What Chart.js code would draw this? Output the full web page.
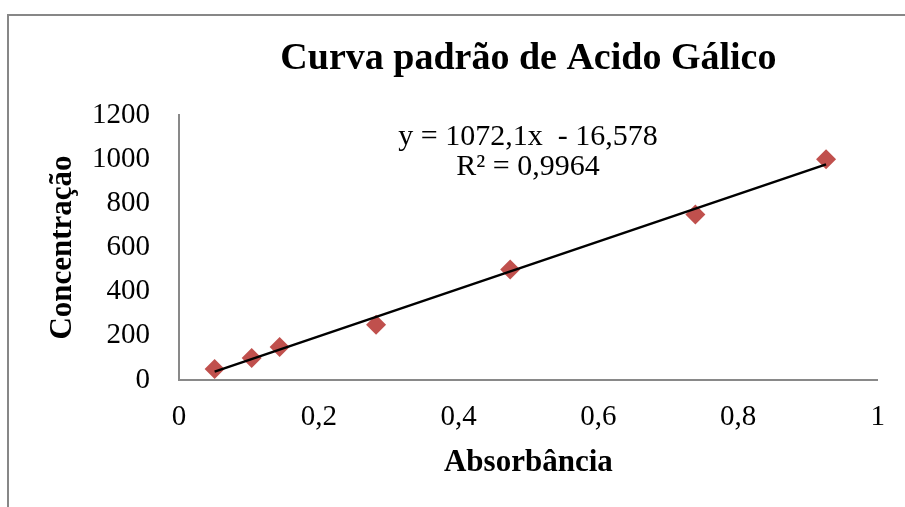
<!DOCTYPE html>
<html>
<head>
<meta charset="utf-8">
<script src="https://cdn.jsdelivr.net/npm/chart.js@4"></script>
<style>
  html, body { margin: 0; padding: 0; background: #fff; overflow: hidden; }
  #wrap { width: 905px; height: 507px; position: relative; }
</style>
</head>
<body>
<div id="wrap"><canvas id="curva"></canvas></div>
<script>
const absorbancia = [0.051, 0.104, 0.144, 0.282, 0.474, 0.739, 0.926];
const concentracao = [50, 100, 150, 250, 500, 750, 1000];
const slope = 1072.1;
const intercept = -16.578;
const rSquared = 0.9964;
const xTicks = [0, 0.2, 0.4, 0.6, 0.8, 1];
const yTicks = [0, 200, 400, 600, 800, 1000, 1200];

const serif = "'Liberation Serif', 'Times New Roman', serif";
const fmt = (v) => String(v).replace('.', ',');

// trend line spans the data range only
const xMin = Math.min(...absorbancia);
const xMax = Math.max(...absorbancia);
const trend = [xMin, xMax].map(x => ({ x: x, y: slope * x + intercept }));

// outer frame of the chart object
const frame = {
    id: 'frame',
    beforeDraw(chart) {
        const ctx = chart.ctx;
        ctx.save();
        ctx.strokeStyle = '#878787';
        ctx.lineWidth = 2;
        ctx.strokeRect(8, 15, 1000, 1000);
        ctx.restore();
    }
};

// regression equation label
const equation = {
    id: 'equation',
    afterDraw(chart) {
        const ctx = chart.ctx;
        ctx.save();
        ctx.fillStyle = '#000';
        ctx.font = '30px ' + serif;
        ctx.textAlign = 'center';
        ctx.textBaseline = 'alphabetic';
        ctx.fillText('y = ' + fmt(slope) + 'x  - ' + fmt(-intercept), 528, 145);
        ctx.fillText('R² = ' + fmt(rSquared), 528, 175);
        ctx.restore();
    }
};

const el = document.getElementById('curva');

new Chart(el, {
    type: 'scatter',
    data: {
        datasets: [{
            type: 'line',
            data: trend,
            borderColor: '#000000',
            borderWidth: 2.5,
            pointRadius: 0,
            fill: false
        }, {
            data: absorbancia.map((x, i) => ({ x: x, y: concentracao[i] })),
            pointStyle: 'rectRot',
            pointRadius: 10,
            backgroundColor: '#C0504D',
            borderColor: '#C0504D',
            borderWidth: 0
        }]
    },
    options: {
        responsive: true,
        maintainAspectRatio: false,
        animation: false,
        layout: {
            padding: { top: 0, right: 24, bottom: 0, left: 0 }
        },
        plugins: {
            legend: { display: false },
            tooltip: { enabled: false },
            title: {
                display: true,
                fullSize: false,
                text: 'Curva padrão de Acido Gálico',
                color: '#000',
                font: { family: serif, size: 38, weight: 'bold', lineHeight: 1.2 },
                padding: { top: 36, bottom: 33.4 }
            }
        },
        scales: {
            x: {
                type: 'linear',
                min: 0,
                max: 1,
                afterFit: (scale) => { scale.height = 127; },
                afterBuildTicks: (scale) => { scale.ticks = xTicks.map(v => ({ value: v })); },
                grid: { display: false, drawTicks: false },
                border: { display: true, color: '#898989', width: 2 },
                ticks: {
                    color: '#000',
                    padding: 20,
                    font: { family: serif, size: 29 },
                    callback: (v) => fmt(v)
                },
                title: {
                    display: true,
                    text: 'Absorbância',
                    color: '#000',
                    font: { family: serif, size: 31, weight: 'bold', lineHeight: 1.2 },
                    padding: { top: 0, bottom: 25 }
                }
            },
            y: {
                type: 'linear',
                min: 0,
                max: 1200,
                afterFit: (scale) => { scale.width = 179; },
                afterBuildTicks: (scale) => { scale.ticks = yTicks.map(v => ({ value: v })); },
                grid: { display: false, drawTicks: false },
                border: { display: true, color: '#898989', width: 2 },
                ticks: {
                    color: '#000',
                    padding: 29,
                    font: { family: serif, size: 29 },
                    callback: (v) => String(v)
                },
                title: {
                    display: true,
                    text: 'Concentração',
                    color: '#000',
                    font: { family: serif, size: 31, weight: 'bold', lineHeight: 1.2 },
                    padding: { top: 44, bottom: 0 }
                }
            }
        }
    },
    plugins: [frame, equation]
});
</script>
</body>
</html>
